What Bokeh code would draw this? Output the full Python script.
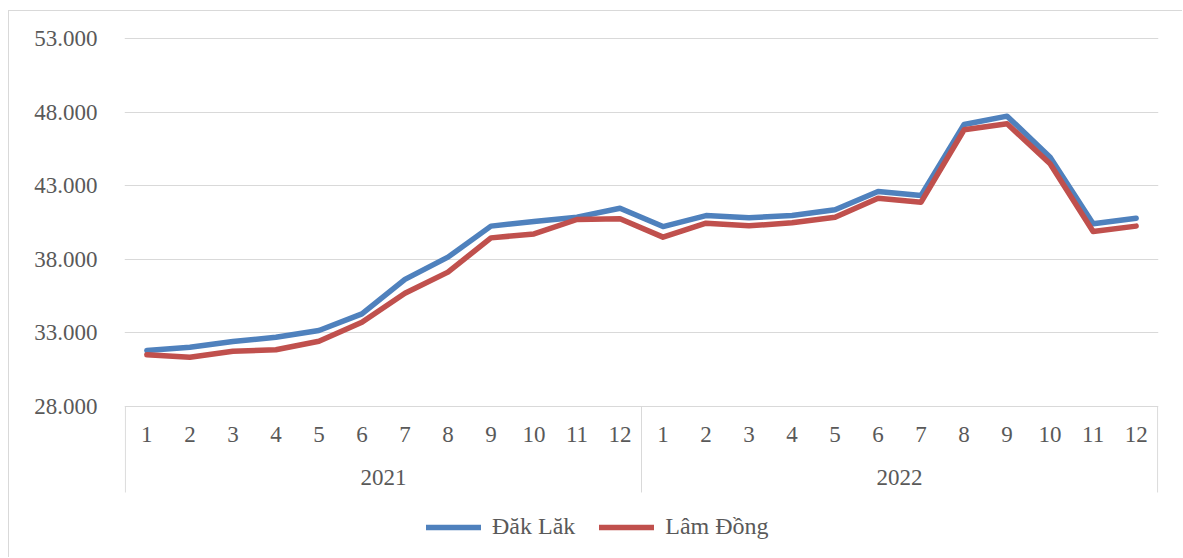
from bokeh.plotting import figure
from bokeh.models import FactorRange, Range1d, FixedTicker, Legend, LegendItem, CategoricalAxis
from bokeh.embed import file_html
from bokeh.resources import INLINE

# ---- data ----
years = ["2021", "2022"]
months = ["1", "2", "3", "4", "5", "6", "7", "8", "9", "10", "11", "12"]
dak_lak = [31810, 32030, 32420, 32710, 33170, 34300, 36650, 38160, 40270, 40590, 40880, 41490,
           40240, 40990, 40840, 40990, 41380, 42630, 42350, 47180, 47750, 44960, 40430, 40810]
lam_dong = [31520, 31350, 31760, 31860, 32440, 33730, 35700, 37140, 39470, 39740, 40720, 40770,
            39520, 40470, 40290, 40500, 40880, 42170, 41900, 46820, 47230, 44510, 39900, 40270]
y_ticks = [28000, 33000, 38000, 43000, 48000, 53000]
y_tick_labels = ["28.000", "33.000", "38.000", "43.000", "48.000", "53.000"]
series_names = ["Đăk Lăk", "Lâm Đồng"]
series_colors = ["#4F81BD", "#C0504D"]

factors = [(y, m) for y in years for m in months]

FONT = "Liberation Serif"
FSIZE = "23px"
TXT = "#595959"
GRID = "#D9D9D9"

p = figure(
    x_range=FactorRange(*factors, group_padding=0, factor_padding=0,
                        range_padding=0.02, range_padding_units="absolute"),
    y_range=Range1d(18204, 54258),
    width=1174, height=547,
    output_backend="svg", toolbar_location=None,
    min_border_left=115, min_border_right=25, min_border_top=9, min_border_bottom=8,
)
p.outline_line_color = None
p.background_fill_color = "white"
p.border_fill_color = "white"

# grid
p.xgrid.visible = False
p.ygrid.ticker = FixedTicker(ticks=y_ticks)
p.ygrid.grid_line_color = GRID
p.ygrid.grid_line_width = 1

# y axis
yax = p.yaxis[0]
yax.ticker = FixedTicker(ticks=y_ticks)
yax.major_label_overrides = {t: l for t, l in zip(y_ticks, y_tick_labels)}
yax.axis_line_color = None
yax.major_tick_line_color = None
yax.minor_tick_line_color = None
yax.major_tick_out = 0
yax.major_tick_in = 0
yax.major_label_standoff = 27
yax.major_label_text_font = FONT
yax.major_label_text_font_size = FSIZE
yax.major_label_text_color = TXT


def style_cat_axis(ax, show_months, show_years):
    ax.axis_line_color = None
    ax.major_tick_line_color = None
    ax.major_tick_out = 0
    ax.major_tick_in = 0
    ax.minor_tick_line_color = None
    ax.separator_line_color = None
    ax.major_label_standoff = 21
    ax.major_label_text_font = FONT
    ax.major_label_text_font_size = FSIZE
    ax.major_label_text_color = TXT if show_months else None
    ax.group_text_font = FONT
    ax.group_text_font_size = FSIZE
    ax.group_text_font_style = "normal"
    ax.group_text_color = TXT if show_years else None
    ax.subgroup_text_font = FONT
    ax.subgroup_text_font_size = FSIZE
    ax.subgroup_text_font_style = "normal"
    ax.subgroup_text_color = TXT if show_years else None


# month labels: axis sitting on the 28.000 line
xax = p.xaxis[0]
xax.fixed_location = y_ticks[0]
style_cat_axis(xax, True, False)

# year labels: second categorical axis, lower down
yr_ax = CategoricalAxis(fixed_location=25075)
style_cat_axis(yr_ax, False, True)
p.add_layout(yr_ax, "below")

# group separators below the axis
n = len(months)
sep_x = [0, n, 2 * n]
p.segment(x0=sep_x, y0=[y_ticks[0]] * 3, x1=sep_x, y1=[22150] * 3,
          line_color=GRID, line_width=1)

# series
r1 = p.line(factors, dak_lak, line_width=5.5, line_color=series_colors[0],
            line_join="round", line_cap="round")
r2 = p.line(factors, lam_dong, line_width=5.5, line_color=series_colors[1],
            line_join="round", line_cap="round")

legend = Legend(
    items=[LegendItem(label=series_names[0], renderers=[r1]),
           LegendItem(label=series_names[1], renderers=[r2])],
    location=(302, 10), orientation="horizontal",
    border_line_color=None, background_fill_alpha=0,
    padding=0, margin=0, spacing=24,
    glyph_width=55, glyph_height=24, label_standoff=11, label_height=24,
    label_text_font=FONT, label_text_font_size="24px", label_text_color=TXT,
)
p.add_layout(legend)

p.styles = {"margin-left": "8px", "margin-top": "10px",
            "border-left": "1px solid #D9D9D9", "border-top": "1px solid #D9D9D9"}

open("out.html", "w").write(file_html(p, INLINE))
